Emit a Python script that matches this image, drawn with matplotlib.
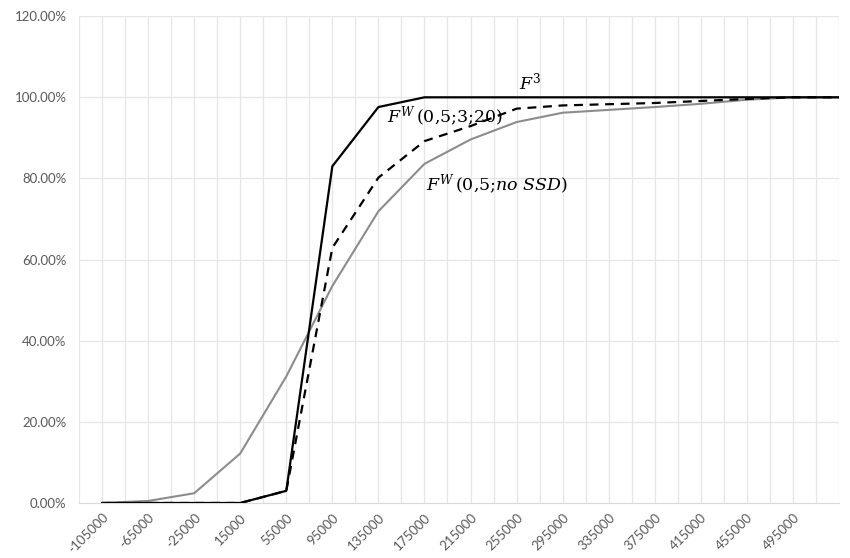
import matplotlib
matplotlib.use("Agg")
import matplotlib.pyplot as plt
from matplotlib.ticker import MultipleLocator, FuncFormatter

# x values (step 40000)
x_vals = [-105000, -65000, -25000, 15000, 55000, 95000, 135000, 175000, 215000,
          255000, 295000, 335000, 375000, 415000, 455000, 495000, 535000]

# cumulative distributions (%)
f3 = [0, 0, 0, 0, 3.0, 83.0, 97.6, 100, 100, 100, 100, 100, 100, 100, 100, 100, 100]
fw_20 = [0, 0, 0, 0, 3.0, 62.9, 80.2, 89.2, 92.9, 97.2, 98.0, 98.3, 98.6, 99.1, 99.6, 100, 100]
fw_nossd = [0, 0.5, 2.4, 12.2, 31.2, 53.5, 71.9, 83.6, 89.6, 93.9, 96.2, 96.9, 97.6, 98.4, 99.4, 100, 100]

x_labels = list(range(-105000, 495001, 40000))

plt.rcParams['mathtext.fontset'] = 'dejavuserif'

fig = plt.figure(figsize=(8.5, 5.58), dpi=100)
ax = fig.add_axes([0.093, 0.0986, 0.894, 0.8724])

ax.plot(x_vals, [v / 100 for v in fw_nossd], color='#8c8c8c', lw=1.5, zorder=3)
ax.plot(x_vals, [v / 100 for v in fw_20], color='black', lw=1.6, ls=(0, (4, 3)), zorder=4)
ax.plot(x_vals, [v / 100 for v in f3], color='black', lw=1.6, zorder=5)

ax.set_xlim(-125000, 535000)
ax.set_ylim(0, 1.2)

ax.set_xticks(x_labels)
ax.set_xticklabels([str(v) for v in x_labels], rotation=45, ha='right', va='top',
                   rotation_mode='anchor')
ax.yaxis.set_major_locator(MultipleLocator(0.2))
ax.yaxis.set_major_formatter(FuncFormatter(lambda v, p: f"{v * 100:.2f}%"))

# light grid: every 20000 on x, every 20% on y
ax.grid(False)
for gx in range(-125000, 535001, 20000):
    ax.axvline(gx, color='#e6e6e6', lw=0.9, zorder=1)
for gy in [0.2, 0.4, 0.6, 0.8, 1.0, 1.2]:
    ax.axhline(gy, color='#e6e6e6', lw=0.9, zorder=1)

for s in ['top', 'right', 'left']:
    ax.spines[s].set_visible(False)
ax.spines['bottom'].set_color('#d9d9d9')
ax.tick_params(axis='both', which='both', length=0, colors='#595959', labelsize=9.5)
ax.tick_params(axis='x', pad=6)
ax.tick_params(axis='y', pad=9)
for lbl in ax.get_xticklabels() + ax.get_yticklabels():
    lbl.set_fontfamily('Lato')

# curve labels
serif = dict(fontsize=12.5, ha='center', va='center', zorder=6, family='DejaVu Serif')
ax.text(267000, 1.037, r'$F^3$', **serif)
ax.text(193000, 0.951, r'$F^W\,$(0,5;3;20)', **serif)
ax.text(238000, 0.783, r'$F^W\,$(0,5;$no\ SSD$)', **serif)

fig.savefig('out.png', dpi=100)
